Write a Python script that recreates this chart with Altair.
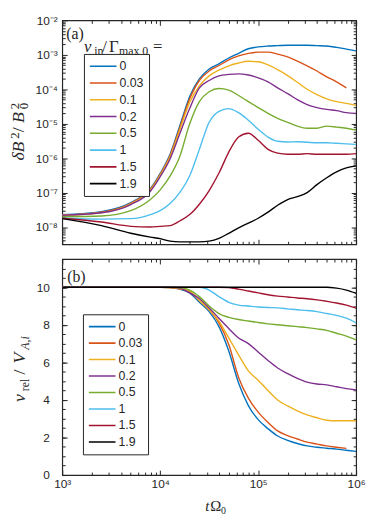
import altair as alt
import pandas as pd

# ---------------- data ----------------
T = [1000, 2510, 5010, 7940, 10000, 12600, 15800, 20000, 25100, 31600, 39800,
     50100, 63100, 79400, 100000, 126000, 158000, 200000, 251000, 316000,
     398000, 501000, 631000, 794000, 1000000]

NU = ["0", "0.03", "0.1", "0.2", "0.5", "1", "1.5", "1.9"]
COLORS = ["#0072BD", "#D95319", "#EDB120", "#7E2F8E", "#77AC30", "#4DBEEE", "#A2142F", "#000000"]

# panel (a): dB^2/B0^2
DB_0 = [2.3e-8, 2.8e-8, 5.1e-8, 1.3e-7, 3.6e-7, 1.3e-6, 8.5e-6, 6.2e-5, 2.0e-4, 3.9e-4, 5.5e-4, 8.1e-4,
        1.1e-3, 1.5e-3, 1.7e-3, 1.8e-3, 1.85e-3, 1.9e-3, 1.9e-3, 1.9e-3, 1.85e-3, 1.8e-3, 1.65e-3, 1.47e-3, 1.3e-3]
DB_003 = [2.2e-8, 2.7e-8, 4.9e-8, 1.25e-7, 3.4e-7, 1.2e-6, 7.5e-6, 5.3e-5, 1.8e-4, 3.4e-4, 4.9e-4, 7.1e-4,
          9.3e-4, 1.1e-3, 1.2e-3, 1.2e-3, 1.05e-3, 8.7e-4, 6.6e-4, 4.8e-4, 3.4e-4, 2.3e-4, 1.65e-4, 1.1e-4, None]
DB_01 = [2.2e-8, 2.6e-8, 4.7e-8, 1.2e-7, 3.2e-7, 1.1e-6, 6.5e-6, 4.2e-5, 1.25e-4, 2.45e-4, 3.6e-4, 4.8e-4,
         5.8e-4, 6.5e-4, 6.3e-4, 5.1e-4, 3.7e-4, 2.5e-4, 1.6e-4, 1.0e-4, 7.0e-5, 5.3e-5, 4.4e-5, 3.9e-5, 3.4e-5]
DB_02 = [2.2e-8, 2.6e-8, 4.5e-8, 1.1e-7, 2.9e-7, 9.5e-7, 5.0e-6, 2.8e-5, 1.1e-4, 1.8e-4, 2.45e-4, 2.7e-4,
         2.8e-4, 2.6e-4, 2.15e-4, 1.65e-4, 1.1e-4, 7.5e-5, 5.0e-5, 3.6e-5, 2.95e-5, 2.6e-5, 2.4e-5, 2.1e-5, 2.0e-5]
DB_05 = [2.0e-8, 2.1e-8, 3.0e-8, 6.3e-8, 1.2e-7, 3.0e-7, 1.1e-6, 1.0e-5, 4.4e-5, 8.5e-5, 1.05e-4, 9.5e-5,
         6.6e-5, 4.4e-5, 2.95e-5, 2.0e-5, 1.44e-5, 1.1e-5, 8.5e-6, 7.4e-6, 7.4e-6, 8.5e-6, 8.0e-6, 7.4e-6, 6.5e-6]
DB_1 = [1.8e-8, 1.7e-8, 1.75e-8, 2.3e-8, 3.0e-8, 4.8e-8, 1.0e-7, 3.1e-7, 1.8e-6, 1.1e-5, 2.3e-5, 2.75e-5,
        2.1e-5, 1.26e-5, 6.9e-6, 4.1e-6, 3.1e-6, 2.95e-6, 3.0e-6, 2.9e-6, 2.8e-6, 2.8e-6, 2.7e-6, 2.6e-6, 2.5e-6]
DB_15 = [1.8e-8, 1.4e-8, 1.05e-8, 1.0e-8, 1.05e-8, 1.1e-8, 1.5e-8, 2.3e-8, 4.6e-8, 1.15e-7, 3.7e-7, 1.5e-6,
         4.1e-6, 5.3e-6, 3.3e-6, 1.8e-6, 1.4e-6, 1.3e-6, 1.3e-6, 1.35e-6, 1.3e-6, 1.3e-6, 1.3e-6, 1.3e-6, 1.35e-6]
DB_19 = [1.75e-8, 1.1e-8, 6.6e-9, 5.1e-9, 4.6e-9, 3.9e-9, 3.7e-9, 3.7e-9, 3.7e-9, 3.9e-9, 4.7e-9, 6.6e-9,
         9.5e-9, 1.3e-8, 1.8e-8, 2.7e-8, 4.3e-8, 6.3e-8, 7.6e-8, 1.0e-7, 1.7e-7, 2.7e-7, 4.0e-7, 5.2e-7, 6.0e-7]

# panel (b): v_rel/V_A,i
VR_0 = [10, 10, 10, 10, 10, 9.98, 9.9, 9.7, 9.2, 8.7, 7.9, 6.6, 4.9, 3.7, 2.95, 2.47, 2.08, 1.85, 1.68,
        1.55, 1.48, 1.43, 1.38, 1.32, 1.26]
VR_003 = [10, 10, 10, 10, 10, 9.98, 9.92, 9.75, 9.3, 8.8, 8.1, 6.95, 5.2, 4.1, 3.35, 2.8, 2.35, 2.1, 1.92,
          1.75, 1.65, 1.55, 1.48, 1.42, None]
VR_01 = [10, 10, 10, 10, 10, 9.98, 9.93, 9.8, 9.3, 8.8, 8.2, 7.3, 6.4, 5.55, 5.05, 4.5, 4.0, 3.68, 3.42,
         3.2, 3.05, 2.92, 2.89, 2.89, 2.89]
VR_02 = [10, 10, 10, 10, 10, 10, 9.95, 9.7, 9.4, 8.9, 8.35, 7.8, 7.3, 7.0, 6.55, 6.1, 5.7, 5.4, 5.15,
         4.95, 4.85, 4.8, 4.7, 4.6, 4.53]
VR_05 = [10, 10, 10, 10, 10, 10, 9.98, 9.85, 9.5, 9.0, 8.6, 8.4, 8.28, 8.2, 8.12, 8.05, 8.0, 7.95, 7.9,
         7.85, 7.78, 7.7, 7.55, 7.4, 7.2]
VR_1 = [10, 10, 10, 10, 10, 10, 10, 10, 10, 9.85, 9.5, 9.2, 9.05, 9.0, 8.95, 8.92, 8.9, 8.85, 8.8,
        8.76, 8.7, 8.6, 8.5, 8.35, 8.1]
VR_15 = [10, 10, 10, 10, 10, 10, 10, 10, 10, 10, 10, 9.98, 9.9, 9.8, 9.7, 9.6, 9.53, 9.48, 9.43,
         9.39, 9.33, 9.25, 9.16, 9.05, 8.89]
VR_19 = [10, 10, 10, 10, 10, 10, 10, 10, 10, 10, 10, 10, 10, 10, 10, 10, 10, 10, 10,
         10, 10, 10, 9.95, 9.85, 9.68]

# axis tick values
X_MAJOR = [1e3, 1e4, 1e5, 1e6]
X_MINOR = [k * m for m in (1e3, 1e4, 1e5) for k in range(2, 10)]
YA_MAJOR = [1e-8, 1e-7, 1e-6, 1e-5, 1e-4, 1e-3, 1e-2]
YA_MINOR = [k * m for m in (1e-9, 1e-8, 1e-7, 1e-6, 1e-5, 1e-4, 1e-3) for k in range(2, 10)
            if k * m > 3.2e-9]
YB_MAJOR = [0, 2, 4, 6, 8, 10]
YB_MINOR = [i * 0.5 for i in range(0, 24)]

INK = "#262626"
SERIF = "Liberation Serif"
SANS = "Liberation Sans"
W, H_A, H_B = 298, 227, 219


def long_df(series, field):
    rows = []
    for nu, vals in zip(NU, series):
        for t, v in zip(T, vals):
            if v is not None:
                rows.append({"t": t, field: v, "nu": nu})
    return pd.DataFrame(rows)


df_a = long_df([DB_0, DB_003, DB_01, DB_02, DB_05, DB_1, DB_15, DB_19], "db")
df_b = long_df([VR_0, VR_003, VR_01, VR_02, VR_05, VR_1, VR_15, VR_19], "vr")


def tick_axis(orient, values, size):
    return alt.Axis(orient=orient, values=values, labels=False, domain=False, grid=False,
                    title=None, ticks=True, tickSize={"expr": f"-{size}"},
                    tickColor=INK, tickWidth=1)


def txt(s, x, y, size=17, italic=True, angle=0, align="left", baseline="alphabetic", font=SERIF):
    return alt.Chart(alt.Data(values=[{}])).mark_text(
        text=s, font=font, fontSize=size, fontStyle="italic" if italic else "normal",
        angle=angle, align=align, baseline=baseline, color=INK
    ).encode(x=alt.value(x), y=alt.value(y))


def legend(lx, ly, clip, rowpad, label_expr=None):
    kw = dict(title=None, orient="none", legendX=lx, legendY=ly, symbolType="stroke",
              symbolSize=729, symbolStrokeWidth=1.6, clipHeight=clip, rowPadding=rowpad,
              labelFont=SANS, labelFontSize=12.5, labelColor=INK, labelOffset=2,
              padding=5, strokeColor=INK, fillColor="white", symbolOffset=0)
    if label_expr:
        kw["labelExpr"] = label_expr
    return alt.Legend(**kw)


def panel(df, field, yscale, ylab_axis, ymaj, ymin, xlab_axis, leg, height, texts):
    xs = alt.Scale(type="log", domain=[1e3, 1e6], nice=False)
    base = alt.Chart(df)
    lines = base.mark_line(strokeWidth=1.4, interpolate="monotone", clip=True).encode(
        x=alt.X("t:Q", scale=xs, axis=xlab_axis),
        y=alt.Y(f"{field}:Q", scale=yscale, axis=ylab_axis),
        color=alt.Color("nu:N", scale=alt.Scale(domain=NU, range=COLORS), legend=leg, sort=NU),
    )

    def ticks(xo, xv, xsz, yo, yv, ysz):
        return base.mark_line(strokeOpacity=0).encode(
            x=alt.X("t:Q", scale=xs, axis=tick_axis(xo, xv, xsz)),
            y=alt.Y(f"{field}:Q", scale=yscale, axis=tick_axis(yo, yv, ysz)),
        )

    layers = [lines,
              ticks("bottom", X_MAJOR, 5, "left", ymaj, 5),
              ticks("bottom", X_MINOR, 3, "left", ymin, 3),
              ticks("top", X_MAJOR, 5, "right", ymaj, 5),
              ticks("top", X_MINOR, 3, "right", ymin, 3)] + texts
    return alt.layer(*layers).properties(width=W, height=height).resolve_axis(
        x="independent", y="independent")


label_common = dict(ticks=False, domain=False, grid=False, title=None, labelFont=SANS,
                    labelFontSize=12, labelColor=INK, labelFlush=False, labelOverlap=False)

# ---------- panel (a) ----------
ya_scale = alt.Scale(type="log", domain=[10 ** -8.5, 1e-2], nice=False)
ya_axis = alt.Axis(orient="left", values=YA_MAJOR, labelPadding=5,
                   labelExpr="['10⁻⁸','10⁻⁷','10⁻⁶','10⁻⁵','10⁻⁴','10⁻³','10⁻²'][round(log(datum.value)/LN10)+8]",
                   **label_common)
xa_axis = alt.Axis(orient="bottom", labels=False, ticks=False, domain=False, grid=False, title=None)

texts_a = [
    txt("(a)", 4, 19, size=16, italic=False),
    # legend title  ν_in / Γ_max,0 =
    txt("ν", 22, 32, size=17),
    txt("in", 32.5, 35, size=12, italic=False),
    txt("/", 40.5, 32, size=17, italic=False),
    txt("Γ", 47.5, 32, size=17, italic=False),
    txt("max,0", 57.5, 35, size=12, italic=False),
    txt("=", 92, 32, size=17, italic=False),
    # y title  δB² / B₀²
    txt("δ", -38.5, 142, size=18, angle=270),
    txt("B", -38.5, 134, size=18, angle=270),
    txt("2", -44, 120, size=13, italic=False, angle=270),
    txt("/", -38.5, 113.5, size=18, italic=False, angle=270),
    txt("B", -38.5, 104, size=18, angle=270),
    txt("2", -44, 90, size=13, italic=False, angle=270),
    txt("0", -34.5, 90, size=13, italic=False, angle=270),
]

top = panel(df_a, "db", ya_scale, ya_axis, YA_MAJOR, YA_MINOR, xa_axis,
            legend(22, 34, 15, 2, "datum.label == '0.03' ? '\u00a00.03' : datum.label"),
            H_A, texts_a)

# ---------- panel (b) ----------
yb_scale = alt.Scale(type="linear", domain=[0, 11.5], nice=False)
yb_axis = alt.Axis(orient="left", values=YB_MAJOR, format="d", labelPadding=13, **label_common)
xb_axis = alt.Axis(orient="bottom", values=X_MAJOR, labelPadding=4,
                   labelExpr="['10³','10⁴','10⁵','10⁶'][round(log(datum.value)/LN10)-3]",
                   **label_common)

texts_b = [
    txt("(b)", 5, 23, size=16, italic=False),
    # y title  v_rel / V_A,i
    txt("v", -37.5, 145, size=18, angle=270),
    txt("rel", -34, 134, size=12, italic=False, angle=270),
    txt("/", -37.5, 117, size=18, italic=False, angle=270),
    txt("V", -37.5, 106, size=18, angle=270),
    txt("A,i", -34, 92, size=12, angle=270),
    # x title  tΩ₀
    txt("t", 145, 255, size=15),
    txt("Ω", 150, 255, size=15, italic=False),
    txt("0", 161, 258, size=10, italic=False),
]

bottom = panel(df_b, "vr", yb_scale, yb_axis, YB_MAJOR, YB_MINOR, xb_axis,
               legend(21, 56, 15, 1.7), H_B, texts_b)

chart = alt.vconcat(top, bottom, spacing=11).resolve_scale(
    x="independent", y="independent", color="independent"
).resolve_legend(color="independent").properties(
    padding={"left": 0, "top": 2, "right": 0, "bottom": 0}
).configure_view(stroke=INK, strokeWidth=1.2)

chart.save("out.html", embed_options={"renderer": "svg", "actions": False})
